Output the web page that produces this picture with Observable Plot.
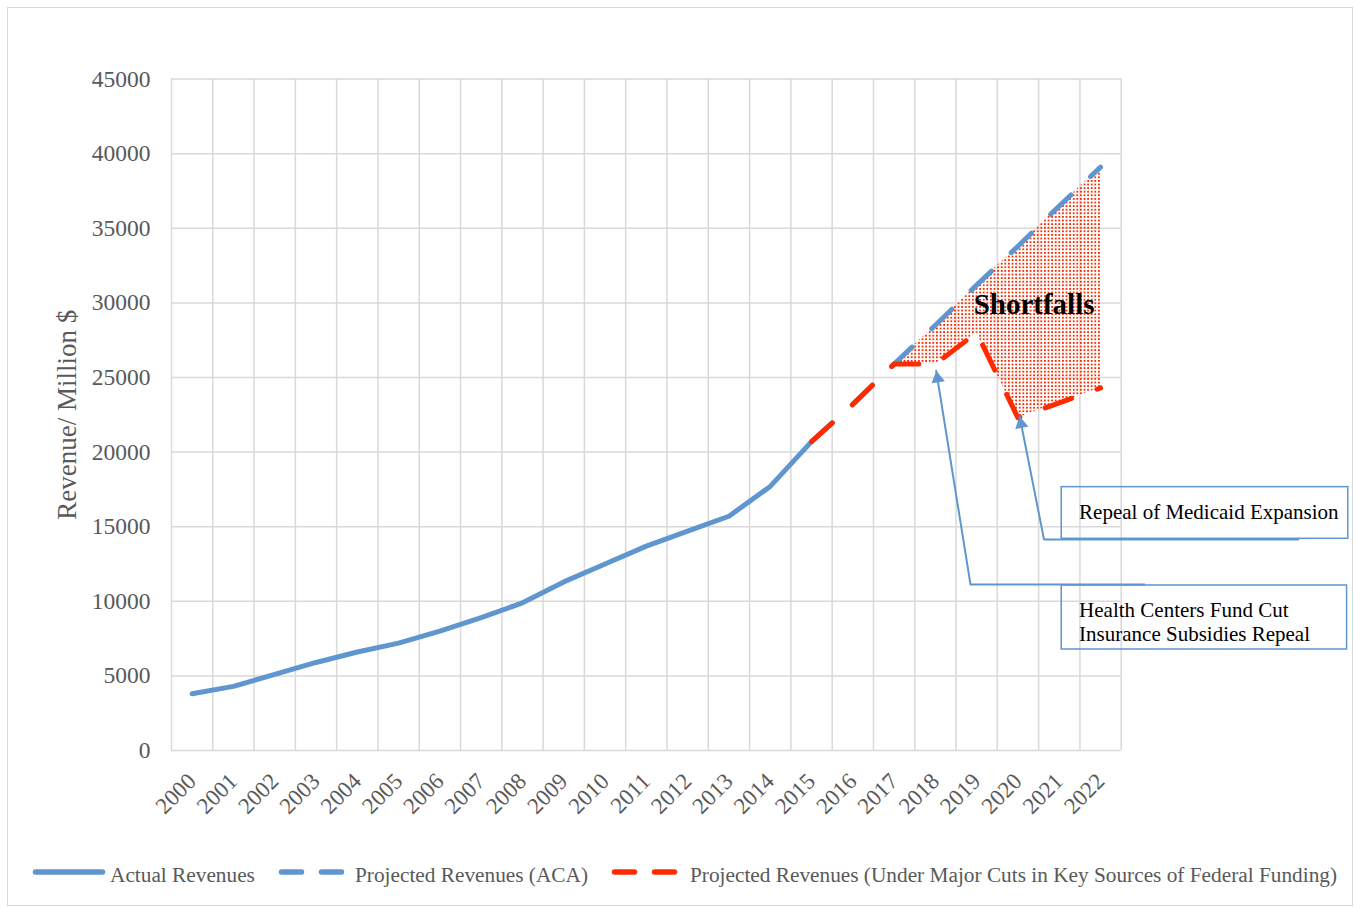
<!DOCTYPE html>
<html><head><meta charset="utf-8">
<script src="https://cdn.jsdelivr.net/npm/d3@7"></script>
<script src="https://cdn.jsdelivr.net/npm/@observablehq/plot@0.6"></script>
<style>
body{margin:0;background:#fff;font-family:"Liberation Serif","Times New Roman",serif;}
#frame{position:absolute;left:7px;top:7px;width:1346px;height:899px;border:1px solid #d9d9d9;box-sizing:border-box;pointer-events:none;}
#chart{position:absolute;left:0;top:0;}
#legend{position:absolute;left:0;top:840px;}
</style></head><body>
<div id="chart"></div>
<div id="legend"></div>
<div id="frame"></div>
<script>
// ---- data ----
const years = [2000,2001,2002,2003,2004,2005,2006,2007,2008,2009,2010,2011,2012,2013,2014,2015,2016,2017,2018,2019,2020,2021,2022];
const actualYears = [2000,2001,2002,2003,2004,2005,2006,2007,2008,2009,2010,2011,2012,2013,2014,2015];
const actualValues = [3800,4300,5100,5900,6600,7200,8000,8900,9900,11300,12500,13700,14700,15700,17700,20700];
const projYears = [2015,2016,2017,2018,2019,2020,2021,2022];
const acaValues = [20700,23200,25900,28500,31200,33800,36500,39100];
const cutValues = [20700,23200,25900,25900,28000,22300,23300,24300];
const shortfallYears = [2017,2018,2019,2020,2021,2022];
const yTicks = [0,5000,10000,15000,20000,25000,30000,35000,40000,45000];
const seriesNames = ["Actual Revenues","Projected Revenues (ACA)","Projected Revenues (Under Major Cuts in Key Sources of Federal Funding)"];
const yTitle = "Revenue/ Million $";
// annotations (data coordinates)
const shortfallLabel = [{year:2020.39, value:29850, text:"Shortfalls"}];
const boxes = [
  {x1:2021.06, x2:2028.0, y1:14190, y2:17650},
  {x1:2021.06, x2:2027.97, y1:6770, y2:11060}
];
const boxLabels = [
  {year:2021.48, value:15980, text:"Repeal of Medicaid Expansion"},
  {year:2021.48, value:9430, text:"Health Centers Fund Cut"},
  {year:2021.48, value:7820, text:"Insurance Subsidies Repeal"}
];
const leaders = [
  {id:1, pts:[[2026.79,14150],[2020.63,14150],[2020.04,22400]]},
  {id:2, pts:[[2023.06,11130],[2018.85,11130],[2018.02,25450]]}
];
const arrowTips = [
  {year:2020.04, value:22400, angle:-11.6},
  {year:2018.02, value:25450, angle:-8.8}
];

// ---- derived tables ----
const BLUE = "#5f96cf", RED = "#ff2a00", GRID = "#d9d9d9", TXT = "#595959";
const actualRows = actualYears.map((year,i)=>({year, value:actualValues[i]}));
const acaRows = projYears.map((year,i)=>({year, value:acaValues[i]}));
const cutRows = projYears.map((year,i)=>({year, value:cutValues[i]}));
const shortRows = shortfallYears.map(year=>{const i=projYears.indexOf(year);return {year, aca:acaValues[i], cut:cutValues[i]};});
const gridX = years.map(y=>y-0.5).concat([years[years.length-1]+0.5]);
const leaderRows = leaders.flatMap(l=>l.pts.map(p=>({id:l.id, year:p[0], value:p[1]})));

const chart = Plot.plot({
  width:1354, height:840,
  marginLeft:171, marginRight:233.3, marginTop:78.6, marginBottom:90,
  style:{fontFamily:'"Liberation Serif","Times New Roman",serif', background:"transparent", overflow:"visible"},
  x:{type:"linear", domain:[years[0]-0.5, years[years.length-1]+0.5], axis:null},
  y:{type:"linear", domain:[0,45000], axis:null},
  marks:[
    Plot.ruleY(yTicks, {y:d=>d, stroke:GRID, strokeWidth:1.5}),
    Plot.ruleX(gridX, {x:d=>d, stroke:GRID, strokeWidth:1.5}),
    Plot.text(yTicks, {y:d=>d, frameAnchor:"left", text:d=>String(d), textAnchor:"end", lineAnchor:"middle", dx:-21, fontSize:23.5, fill:TXT}),
    Plot.text(years, {x:d=>d, frameAnchor:"bottom", text:d=>String(d), rotate:-45, textAnchor:"end", lineAnchor:"middle", dx:0, dy:27, fontSize:23, fill:TXT}),
    Plot.text([yTitle], {frameAnchor:"left", text:d=>d, rotate:-90, textAnchor:"middle", lineAnchor:"middle", dx:-104.5, fontSize:27, fill:TXT}),
    Plot.areaY(shortRows, {x:"year", y1:"cut", y2:"aca", fill:"url(#dots)", curve:"linear"}),
    Plot.line(actualRows, {x:"year", y:"value", stroke:BLUE, strokeWidth:5, strokeLinecap:"round", strokeLinejoin:"round"}),
    Plot.line(acaRows, {x:"year", y:"value", stroke:BLUE, strokeWidth:5, strokeLinecap:"round", strokeLinejoin:"round", strokeDasharray:"28,27"}),
    Plot.line(cutRows, {x:"year", y:"value", stroke:RED, strokeWidth:5, strokeLinecap:"round", strokeLinejoin:"round", strokeDasharray:"28,27"}),
    Plot.text(shortfallLabel, {x:"year", y:"value", text:"text", fontSize:29, fontWeight:"bold", fill:"#000", textAnchor:"middle", lineAnchor:"middle"}),
    Plot.rect(boxes, {x1:"x1", x2:"x2", y1:"y1", y2:"y2", fill:"none", stroke:BLUE, strokeWidth:1.5}),
    Plot.text(boxLabels, {x:"year", y:"value", text:"text", textAnchor:"start", lineAnchor:"middle", fontSize:21, fill:"#000"}),
    Plot.line(leaderRows, {x:"year", y:"value", z:"id", stroke:BLUE, strokeWidth:2, curve:"linear"}),
    Plot.dot(arrowTips, {x:"year", y:"value", symbol:"triangle", r:5, fill:BLUE, stroke:"none", rotate:"angle", dx:1.4, dy:7.7})
  ]
});
// dotted pattern for the shortfall area
const ns = "http://www.w3.org/2000/svg";
const defs = document.createElementNS(ns,"defs");
defs.innerHTML = `<pattern id="dots" patternUnits="userSpaceOnUse" width="3.6" height="3.6"><rect x="0" y="0" width="1.8" height="1.8" fill="${RED}"/></pattern>`;
chart.insertBefore(defs, chart.firstChild);
document.getElementById("chart").appendChild(chart);

// ---- legend (below the chart) ----
const lg = d3.select("#legend").append("svg").attr("width",1354).attr("height",67)
  .style("font-family",'"Liberation Serif","Times New Roman",serif');
const ly = 32;
lg.append("line").attr("x1",35.5).attr("x2",102.5).attr("y1",ly).attr("y2",ly)
  .attr("stroke",BLUE).attr("stroke-width",5.5).attr("stroke-linecap","round");
lg.append("line").attr("x1",281.5).attr("x2",342).attr("y1",ly).attr("y2",ly)
  .attr("stroke",BLUE).attr("stroke-width",5.5).attr("stroke-linecap","round").attr("stroke-dasharray","20,20");
lg.append("line").attr("x1",614.5).attr("x2",676).attr("y1",ly).attr("y2",ly)
  .attr("stroke",RED).attr("stroke-width",5.5).attr("stroke-linecap","round").attr("stroke-dasharray","20,20");
[[110,seriesNames[0]],[355,seriesNames[1]],[690,seriesNames[2]]].forEach(([x,t])=>{
  lg.append("text").attr("x",x).attr("y",41.5).attr("font-size",21.3).attr("fill",TXT).text(t);
});
</script>
</body></html>
